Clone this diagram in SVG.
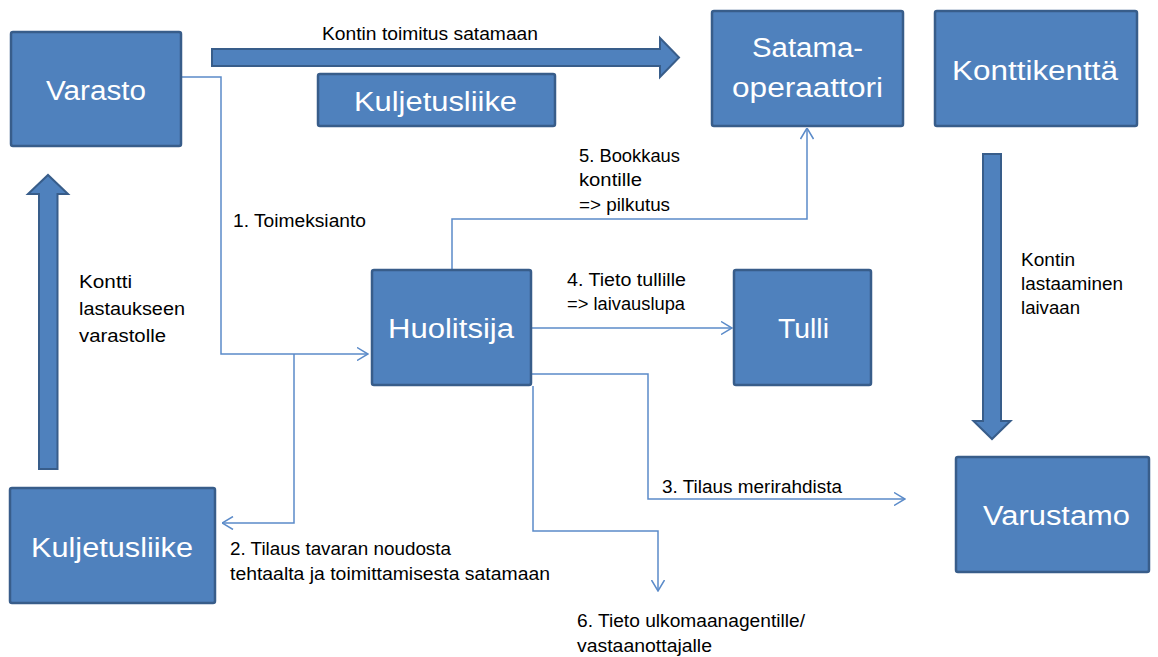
<svg xmlns="http://www.w3.org/2000/svg" width="1158" height="657" viewBox="0 0 1158 657">
  <style>
    .box { fill: #4f81bd; stroke: #385d8a; stroke-width: 2.5; }
    .big { fill: #4f81bd; stroke: #385d8a; stroke-width: 2; stroke-linejoin: miter; }
    .nt { font-family: "Liberation Sans", Arial, sans-serif; font-size: 27px; fill: #ffffff; text-anchor: start; }
    .lb { font-family: "Liberation Sans", Arial, sans-serif; font-size: 17.5px; fill: #000000; }
    .con { fill: none; stroke: #5b8bc9; stroke-width: 1.5; }
  </style>
  <defs>
    <marker id="open" viewBox="0 0 12 14" refX="11.5" refY="7" markerWidth="12" markerHeight="14" markerUnits="userSpaceOnUse" orient="auto">
      <path d="M0.5,0.5 L11.5,7 L0.5,13.5" fill="none" stroke="#5b8bc9" stroke-width="1.5"/>
    </marker>
  </defs>
  <rect width="1158" height="657" fill="#ffffff"/>

  <!-- block arrows -->
  <g id="flow-arrows">
    <polygon class="big" points="212,49 660,49 660,38 679,57.5 660,77 660,66 212,66"/>
    <polygon class="big" points="39,469 39,194 28,194 48,175 68,194 57.5,194 57.5,469"/>
    <polygon class="big" points="983,154 1001,154 1001,421 1010.5,421 992,439 973.5,421 983,421"/>
  </g>

  <!-- connectors -->
  <g id="connectors">
    <path class="con" d="M182,77 H221 V354 H368" marker-end="url(#open)"/>
    <path class="con" d="M294,354 V523 H222" marker-end="url(#open)"/>
    <path class="con" d="M532,374 H648 V499 H905" marker-end="url(#open)"/>
    <path class="con" d="M532,328 H732" marker-end="url(#open)"/>
    <path class="con" d="M452,269 V219 H807 V128" marker-end="url(#open)"/>
    <path class="con" d="M533,386 V531 H658 V591" marker-end="url(#open)"/>
  </g>

  <!-- nodes -->
  <g id="varasto">
    <rect class="box" x="11" y="32" width="170" height="114" rx="2"/>
    <text class="nt" x="46" y="100" textLength="100" lengthAdjust="spacingAndGlyphs">Varasto</text>
  </g>
  <g id="kuljetusliike-top">
    <rect class="box" x="318" y="74" width="237" height="52" rx="2"/>
    <text class="nt" x="354" y="111" textLength="163" lengthAdjust="spacingAndGlyphs">Kuljetusliike</text>
  </g>
  <g id="satamaoperaattori">
    <rect class="box" x="712" y="11" width="191" height="115" rx="2"/>
    <text class="nt" x="752" y="57" textLength="111" lengthAdjust="spacingAndGlyphs">Satama-</text>
    <text class="nt" x="732" y="97" textLength="151" lengthAdjust="spacingAndGlyphs">operaattori</text>
  </g>
  <g id="konttikentta">
    <rect class="box" x="935" y="11" width="202" height="115" rx="2"/>
    <text class="nt" x="952" y="80" textLength="166" lengthAdjust="spacingAndGlyphs">Konttikenttä</text>
  </g>
  <g id="huolitsija">
    <rect class="box" x="372" y="270" width="159" height="115" rx="2"/>
    <text class="nt" x="388" y="338" textLength="126" lengthAdjust="spacingAndGlyphs">Huolitsija</text>
  </g>
  <g id="tulli">
    <rect class="box" x="734" y="270" width="137" height="115" rx="2"/>
    <text class="nt" x="778" y="338" textLength="51" lengthAdjust="spacingAndGlyphs">Tulli</text>
  </g>
  <g id="kuljetusliike-bottom">
    <rect class="box" x="10" y="488" width="205" height="115" rx="2"/>
    <text class="nt" x="31" y="557" textLength="162" lengthAdjust="spacingAndGlyphs">Kuljetusliike</text>
  </g>
  <g id="varustamo">
    <rect class="box" x="956" y="457" width="193" height="115" rx="2"/>
    <text class="nt" x="983" y="525" textLength="147" lengthAdjust="spacingAndGlyphs">Varustamo</text>
  </g>

  <!-- labels -->
  <g id="labels">
    <text class="lb" x="322" y="40" textLength="216" lengthAdjust="spacingAndGlyphs">Kontin toimitus satamaan</text>
    <text class="lb" x="233" y="227" textLength="133" lengthAdjust="spacingAndGlyphs">1. Toimeksianto</text>
    <text class="lb" x="79" y="288" textLength="53" lengthAdjust="spacingAndGlyphs">Kontti</text>
    <text class="lb" x="79" y="315" textLength="106" lengthAdjust="spacingAndGlyphs">lastaukseen</text>
    <text class="lb" x="79" y="342" textLength="87" lengthAdjust="spacingAndGlyphs">varastolle</text>
    <text class="lb" x="579" y="162" textLength="101" lengthAdjust="spacingAndGlyphs">5. Bookkaus</text>
    <text class="lb" x="579" y="186" textLength="63" lengthAdjust="spacingAndGlyphs">kontille</text>
    <text class="lb" x="579" y="211" textLength="91" lengthAdjust="spacingAndGlyphs">=&gt; pilkutus</text>
    <text class="lb" x="567" y="286" textLength="119" lengthAdjust="spacingAndGlyphs">4. Tieto tullille</text>
    <text class="lb" x="567" y="310" textLength="118" lengthAdjust="spacingAndGlyphs">=&gt; laivauslupa</text>
    <text class="lb" x="1021" y="266" textLength="54" lengthAdjust="spacingAndGlyphs">Kontin</text>
    <text class="lb" x="1021" y="290" textLength="102" lengthAdjust="spacingAndGlyphs">lastaaminen</text>
    <text class="lb" x="1021" y="314" textLength="59" lengthAdjust="spacingAndGlyphs">laivaan</text>
    <text class="lb" x="662" y="493" textLength="180" lengthAdjust="spacingAndGlyphs">3. Tilaus merirahdista</text>
    <text class="lb" x="230" y="555" textLength="221" lengthAdjust="spacingAndGlyphs">2. Tilaus tavaran noudosta</text>
    <text class="lb" x="230" y="580" textLength="320" lengthAdjust="spacingAndGlyphs">tehtaalta ja toimittamisesta satamaan</text>
    <text class="lb" x="577" y="627" textLength="228" lengthAdjust="spacingAndGlyphs">6. Tieto ulkomaanagentille/</text>
    <text class="lb" x="577" y="652" textLength="135" lengthAdjust="spacingAndGlyphs">vastaanottajalle</text>
  </g>
</svg>
